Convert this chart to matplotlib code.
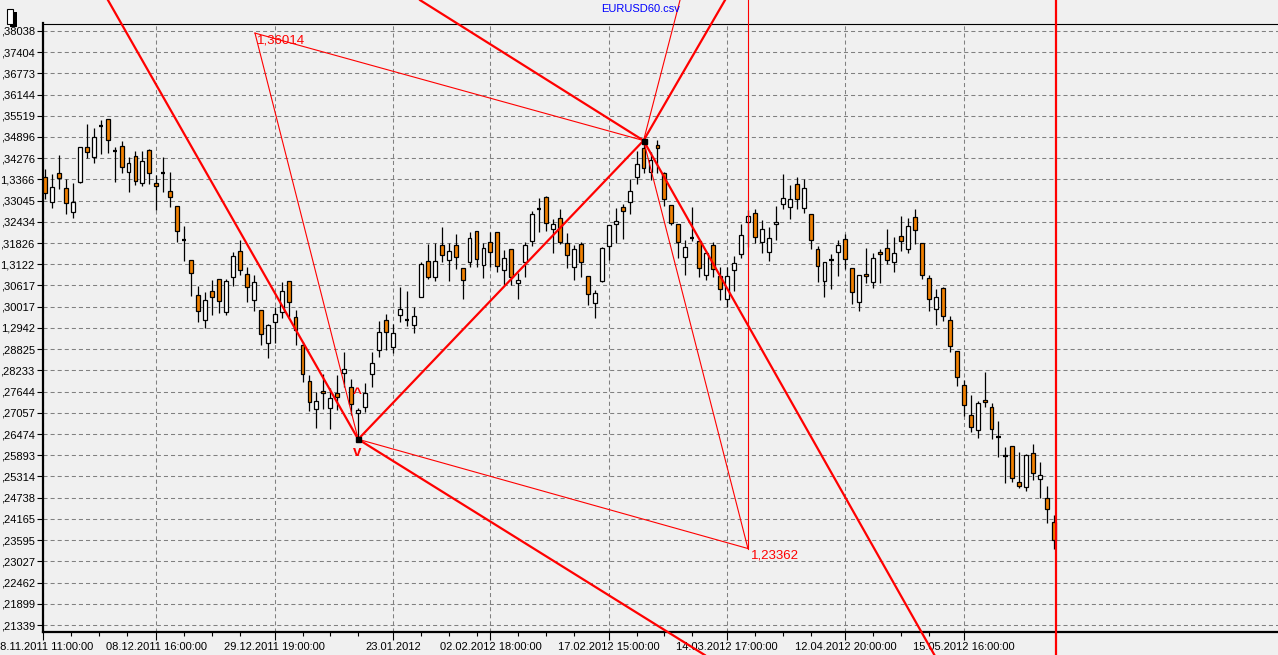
import matplotlib
matplotlib.use("Agg")
import matplotlib.pyplot as plt
from matplotlib.patches import Rectangle
from matplotlib.ticker import FixedLocator, NullLocator

plt.rcParams['font.family'] = ['Liberation Sans', 'DejaVu Sans']

# OHLC of each bar
opens = [1.3373, 1.3300, 1.3385, 1.3340, 1.3271, 1.3359, 1.3459, 1.3432, 1.3522, 1.3541,
         1.3449, 1.3462, 1.3387, 1.3433, 1.3355, 1.3451, 1.3355, 1.3385, 1.3331, 1.3288,
         1.3192, 1.3133, 1.3034, 1.2963, 1.3045, 1.3079, 1.2986, 1.3085, 1.3159, 1.3093,
         1.3020, 1.2992, 1.2899, 1.2958, 1.2986, 1.3074, 1.2973, 1.2894, 1.2794, 1.2715,
         1.2766, 1.2718, 1.2760, 1.2815, 1.2776, 1.2704, 1.2723, 1.2813, 1.2880, 1.2963,
         1.2888, 1.2977, 1.2964, 1.2949, 1.3030, 1.3131, 1.3085, 1.3176, 1.3133, 1.3176,
         1.3111, 1.3128, 1.3216, 1.3119, 1.3185, 1.3213, 1.3105, 1.3165, 1.3068, 1.3129,
         1.3189, 1.3279, 1.3314, 1.3222, 1.3253, 1.3182, 1.3115, 1.3179, 1.3089, 1.3011,
         1.3075, 1.3175, 1.3238, 1.3285, 1.3300, 1.3372, 1.3456, 1.3387, 1.3466, 1.3384,
         1.3292, 1.3236, 1.3142, 1.3198, 1.3189, 1.3091, 1.3176, 1.3089, 1.3023, 1.3105,
         1.3150, 1.3243, 1.3270, 1.3185, 1.3156, 1.3237, 1.3294, 1.3285, 1.3352, 1.3282,
         1.3265, 1.3165, 1.3075, 1.3134, 1.3156, 1.3193, 1.3110, 1.3014, 1.3093, 1.3072,
         1.3157, 1.3168, 1.3128, 1.3202, 1.3165, 1.3256, 1.3182, 1.3082, 1.2994, 1.3054,
         1.2963, 1.2876, 1.2782, 1.2699, 1.2658, 1.2741, 1.2721, 1.2640, 1.2588, 1.2614,
         1.2516, 1.2502, 1.2595, 1.2524, 1.2472, 1.2407]
highs = [1.3396, 1.3381, 1.3437, 1.3366, 1.3356, 1.3460, 1.3528, 1.3515, 1.3539, 1.3541,
         1.3459, 1.3479, 1.3430, 1.3449, 1.3449, 1.3454, 1.3379, 1.3430, 1.3387, 1.3288,
         1.3231, 1.3133, 1.3059, 1.3042, 1.3076, 1.3079, 1.3079, 1.3157, 1.3191, 1.3113,
         1.3091, 1.2992, 1.2952, 1.3002, 1.3071, 1.3074, 1.2992, 1.2902, 1.2810, 1.2763,
         1.2813, 1.2774, 1.2810, 1.2874, 1.2799, 1.2718, 1.2787, 1.2874, 1.2961, 1.2980,
         1.2952, 1.3058, 1.3046, 1.3002, 1.3128, 1.3180, 1.3182, 1.3228, 1.3184, 1.3208,
         1.3111, 1.3213, 1.3216, 1.3183, 1.3213, 1.3213, 1.3163, 1.3165, 1.3098, 1.3186,
         1.3274, 1.3312, 1.3318, 1.3252, 1.3279, 1.3210, 1.3177, 1.3186, 1.3089, 1.3049,
         1.3170, 1.3233, 1.3283, 1.3294, 1.3366, 1.3448, 1.3479, 1.3446, 1.3481, 1.3388,
         1.3292, 1.3236, 1.3191, 1.3285, 1.3189, 1.3160, 1.3186, 1.3115, 1.3115, 1.3146,
         1.3237, 1.3277, 1.3279, 1.3249, 1.3229, 1.3289, 1.3381, 1.3349, 1.3374, 1.3366,
         1.3265, 1.3174, 1.3128, 1.3151, 1.3191, 1.3208, 1.3110, 1.3091, 1.3168, 1.3153,
         1.3165, 1.3222, 1.3200, 1.3260, 1.3253, 1.3279, 1.3182, 1.3091, 1.3052, 1.3058,
         1.2976, 1.2876, 1.2797, 1.2755, 1.2738, 1.2819, 1.2732, 1.2683, 1.2613, 1.2614,
         1.2598, 1.2593, 1.2620, 1.2571, 1.2506, 1.2427]
lows = [1.3309, 1.3284, 1.3338, 1.3266, 1.3255, 1.3356, 1.3427, 1.3414, 1.3440, 1.3443,
        1.3359, 1.3384, 1.3330, 1.3350, 1.3347, 1.3353, 1.3277, 1.3330, 1.3287, 1.3186,
        1.3132, 1.3033, 1.2959, 1.2943, 1.2979, 1.2983, 1.2978, 1.3060, 1.3092, 1.3016,
        1.2990, 1.2895, 1.2857, 1.2901, 1.2971, 1.2973, 1.2893, 1.2792, 1.2712, 1.2663,
        1.2715, 1.2660, 1.2714, 1.2778, 1.2700, 1.2633, 1.2709, 1.2776, 1.2861, 1.2880,
        1.2872, 1.2959, 1.2947, 1.2929, 1.3028, 1.3079, 1.3075, 1.3129, 1.3075, 1.3109,
        1.3024, 1.3114, 1.3115, 1.3084, 1.3115, 1.3101, 1.3063, 1.3063, 1.3024, 1.3087,
        1.3174, 1.3213, 1.3217, 1.3153, 1.3180, 1.3112, 1.3077, 1.3087, 1.3006, 1.2969,
        1.3072, 1.3134, 1.3184, 1.3194, 1.3266, 1.3353, 1.3384, 1.3364, 1.3384, 1.3289,
        1.3234, 1.3139, 1.3091, 1.3189, 1.3087, 1.3077, 1.3087, 1.3021, 1.3002, 1.3047,
        1.3139, 1.3172, 1.3182, 1.3153, 1.3132, 1.3191, 1.3280, 1.3251, 1.3279, 1.3268,
        1.3165, 1.3072, 1.3030, 1.3051, 1.3089, 1.3108, 1.3010, 1.2990, 1.3070, 1.3055,
        1.3068, 1.3124, 1.3101, 1.3160, 1.3155, 1.3181, 1.3080, 1.2990, 1.2951, 1.2962,
        1.2875, 1.2781, 1.2697, 1.2654, 1.2637, 1.2721, 1.2635, 1.2584, 1.2513, 1.2516,
        1.2499, 1.2493, 1.2522, 1.2472, 1.2406, 1.2335]
closes = [1.3326, 1.3343, 1.3371, 1.3297, 1.3300, 1.3459, 1.3446, 1.3489, 1.3522, 1.3480,
          1.3449, 1.3401, 1.3413, 1.3360, 1.3419, 1.3384, 1.3346, 1.3385, 1.3314, 1.3216,
          1.3192, 1.3096, 1.2989, 1.3020, 1.3028, 1.3017, 1.3074, 1.3145, 1.3105, 1.3057,
          1.3071, 1.2924, 1.2949, 1.2980, 1.3045, 1.3014, 1.2936, 1.2813, 1.2735, 1.2738,
          1.2760, 1.2746, 1.2750, 1.2826, 1.2729, 1.2714, 1.2760, 1.2845, 1.2931, 1.2930,
          1.2927, 1.2994, 1.2964, 1.2976, 1.3123, 1.3087, 1.3131, 1.3148, 1.3160, 1.3142,
          1.3076, 1.3196, 1.3136, 1.3168, 1.3156, 1.3116, 1.3139, 1.3087, 1.3076, 1.3176,
          1.3265, 1.3279, 1.3241, 1.3237, 1.3186, 1.3149, 1.3166, 1.3129, 1.3037, 1.3040,
          1.3168, 1.3233, 1.3246, 1.3274, 1.3332, 1.3410, 1.3400, 1.3422, 1.3456, 1.3308,
          1.3241, 1.3185, 1.3170, 1.3198, 1.3110, 1.3155, 1.3108, 1.3051, 1.3088, 1.3126,
          1.3205, 1.3261, 1.3199, 1.3222, 1.3196, 1.3242, 1.3313, 1.3310, 1.3309, 1.3340,
          1.3190, 1.3116, 1.3128, 1.3134, 1.3176, 1.3136, 1.3042, 1.3091, 1.3088, 1.3139,
          1.3150, 1.3133, 1.3153, 1.3188, 1.3230, 1.3221, 1.3091, 1.3023, 1.3028, 1.2976,
          1.2890, 1.2804, 1.2726, 1.2666, 1.2732, 1.2735, 1.2662, 1.2640, 1.2588, 1.2526,
          1.2506, 1.2589, 1.2540, 1.2535, 1.2442, 1.2360]

ytick_vals = [1.38038, 1.37404, 1.36773, 1.36144, 1.35519, 1.34896, 1.34276, 1.3366,
              1.33045, 1.32434, 1.31826, 1.3122, 1.30617, 1.30017, 1.2942, 1.28825,
              1.28233, 1.27644, 1.27057, 1.26474, 1.25893, 1.25314, 1.24738, 1.24165,
              1.23595, 1.23027, 1.22462, 1.21899, 1.21339]
ytick_labels = [",38038", ",37404", ",36773", ",36144", ",35519", ",34896", ",34276", "1,3366",
                ",33045", ",32434", ",31826", "1,3122", ",30617", ",30017", "1,2942", ",28825",
                ",28233", ",27644", ",27057", ",26474", ",25893", ",25314", ",24738", ",24165",
                ",23595", ",23027", ",22462", ",21899", ",21339"]

xtick_pos = [-0.25, 16, 33, 50, 64, 81, 98, 115, 132]
xtick_labels = ["08.11.2011 11:00:00", "08.12.2011 16:00:00", "29.12.2011 19:00:00",
                "23.01.2012", "02.02.2012 18:00:00", "17.02.2012 15:00:00",
                "14.03.2012 17:00:00", "12.04.2012 20:00:00", "15.05.2012 16:00:00"]

# drawing objects (bar index, price)
piv_low = (45, 1.2633)
piv_high = (86, 1.3479)
pt_a = (30.17, 1.3797)
pt_b = (101.0, 1.2337)
top_p = 1.3896
bot_p = 1.2055
cursor_x = 145.25

W, H = 1278, 655
fig = plt.figure(figsize=(W / 100, H / 100), dpi=100, facecolor='#f0f0f0')
ax = fig.add_axes([43 / W, 23 / H, 1235 / W, 608.5 / H])
ax.set_facecolor('#f0f0f0')

n = len(opens)
xs = list(range(n))
ax.vlines(xs, lows, highs, color='black', lw=0.9, zorder=2)
for i in range(n):
    o, c = opens[i], closes[i]
    lo, hi = min(o, c), max(o, c)
    if hi - lo < 0.00006:
        ax.plot([i - 0.3, i + 0.3], [o, o], color='black', lw=1.6, zorder=3,
                solid_capstyle='butt')
        continue
    col = '#f08000' if c < o else 'white'
    ax.add_patch(Rectangle((i - 0.28, lo), 0.56, hi - lo, facecolor=col,
                           edgecolor='black', lw=0.9, zorder=3))

ax.set_yscale('log')
ax.set_ylim(1.21155, 1.38258)
ax.set_xlim(-0.287, 177.16)
ax.yaxis.set_major_locator(FixedLocator(ytick_vals))
ax.yaxis.set_minor_locator(NullLocator())
ax.set_yticklabels(ytick_labels)
ax.xaxis.set_major_locator(FixedLocator(xtick_pos))
ax.set_xticklabels(xtick_labels)
minors = []
for k in range(len(xtick_pos) - 1):
    m = xtick_pos[k] + 4
    while m < xtick_pos[k + 1] - 1:
        minors.append(m)
        m += 4
ax.xaxis.set_minor_locator(FixedLocator(minors))

ax.grid(True, which='major', color='#808080', linestyle=(0, (3.9, 2.9)), lw=0.75)
ax.tick_params(axis='y', direction='out', length=4, width=0.8, pad=2, labelsize=8)
ax.tick_params(axis='x', which='major', direction='out', length=6, width=0.8, pad=1.5,
               labelsize=8)
ax.tick_params(axis='x', which='minor', direction='out', length=3, width=0.8)
ax.spines['left'].set_linewidth(1.6)
ax.spines['bottom'].set_linewidth(1.6)
ax.spines['top'].set_linewidth(0.8)
ax.spines['right'].set_visible(False)


def seg(p, q, lw):
    ax.plot([p[0], q[0]], [p[1], q[1]], color='#ff0000', lw=lw, clip_on=False, zorder=6)


thick = 1.6
thin = 0.8
seg((9.05, top_p), piv_low, thick)
seg(piv_low, (94.8, bot_p), thick)
seg(piv_low, piv_high, thick)
seg(piv_high, (97.7, top_p), thick)
seg((53.9, top_p), piv_high, thick)
seg(piv_high, (127.8, bot_p), thick)
seg(pt_a, piv_high, thin)
seg(pt_a, piv_low, thin)
seg(piv_low, pt_b, thin)
seg(pt_b, piv_high, thin)
seg(piv_high, (91.24, top_p), thin)
seg(pt_b, (pt_b[0], top_p), thin)
ax.plot([cursor_x, cursor_x], [bot_p, top_p], color='#ff0000', lw=1.6, clip_on=False, zorder=6)

ax.plot([piv_low[0], piv_high[0]], [piv_low[1], piv_high[1]], 's', color='black',
        ms=3.6, zorder=7, clip_on=False)

ax.text(30.45, 1.3776, "1,36014", color='#ff0000', fontsize=9.5, ha='left', va='center')
ax.text(101.5, 1.2317, "1,23362", color='#ff0000', fontsize=9.5, ha='left', va='center')
ax.text(44.9, 1.2758, "^", color='#ff0000', fontsize=11, fontweight='bold',
        ha='center', va='center')
ax.text(44.9, 1.2598, "v", color='#ff0000', fontsize=11, fontweight='bold',
        ha='center', va='center')

fig.text(641 / W, 1 - 9 / H, "EURUSD60.csv", color='#0000ff', fontsize=8,
         ha='center', va='center')

# small icon in the corner
fig.add_artist(Rectangle((10 / W, 1 - 26.7 / H), 6.7 / W, 15 / H, transform=fig.transFigure,
                         facecolor='black', edgecolor='none'))
fig.add_artist(Rectangle((6.7 / W, 1 - 24 / H), 6.6 / W, 15 / H, transform=fig.transFigure,
                         facecolor='white', edgecolor='black', lw=0.8))

fig.savefig('out.png', dpi=100, facecolor='#f0f0f0')
